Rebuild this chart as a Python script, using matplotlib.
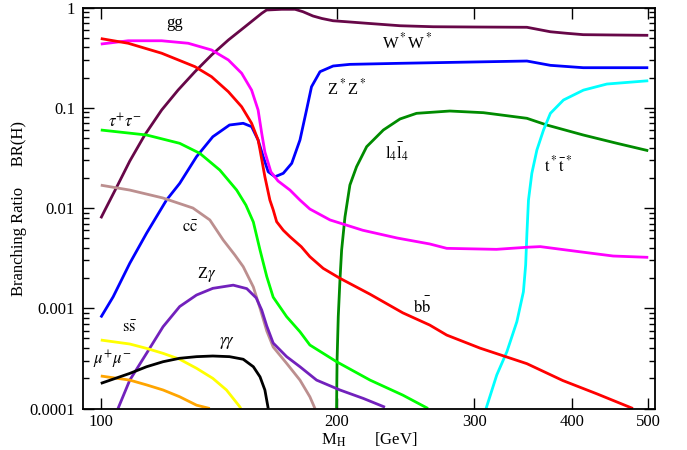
import matplotlib
matplotlib.use("Agg")
import matplotlib.pyplot as plt
from matplotlib.ticker import FixedLocator, FixedFormatter, NullLocator, LogLocator

plt.rcParams['font.family'] = ['Liberation Serif', 'DejaVu Serif']
plt.rcParams['mathtext.fontset'] = 'stix'

# ---- data (M_H in GeV, branching ratio) ----
m_bb = [100, 108.4, 119.6, 131.9, 138.5, 145.5, 151.3, 155.8, 158.8, 159.7, 162, 164.4, 166, 167.7, 171,
        174.4, 180.3, 184.9, 192.3, 202, 220.7, 243, 263, 276.5, 305, 350, 389, 430, 478]
br_bb = [0.49, 0.44, 0.35, 0.257, 0.204, 0.1446, 0.1024, 0.070, 0.0477, 0.038, 0.0205, 0.012, 0.0096,
         0.0073, 0.0060, 0.00517, 0.00411, 0.00327, 0.0025, 0.00199, 0.00138, 0.0009, 0.00068, 0.00054,
         0.0004, 0.00028, 0.00019, 0.00014, 0.0001]

m_gg = [100, 108.4, 119.6, 129.3, 138.5, 145.5, 151.3, 155.8, 158.8, 160.5, 162, 164.9, 168.4, 174.4, 179.6,
        184.9, 196.2, 216, 239, 263, 276.5, 320, 350, 364, 409, 451, 500]
br_gg = [0.432, 0.466, 0.466, 0.44, 0.377, 0.30, 0.221, 0.150, 0.095, 0.0556, 0.0362, 0.0229, 0.0186,
         0.0151, 0.0120, 0.00977, 0.0076, 0.0060, 0.00502, 0.00438, 0.00396, 0.00387, 0.00406, 0.00412,
         0.00366, 0.00332, 0.00322]

m_ww = [100, 101.2, 104.8, 108.9, 113.8, 119.6, 125.5, 131.9, 138.5, 145.5, 152.8, 160.5, 162.8, 170.2, 177,
        181.2, 186.6, 191.6, 197.9, 208, 218.7, 241, 265.7, 300, 350, 375, 393.6, 413, 451, 500]
br_ww = [0.0079, 0.0095, 0.0162, 0.0294, 0.0535, 0.095, 0.150, 0.229, 0.336, 0.474, 0.643, 0.875, 0.944,
         0.96, 0.96, 0.908, 0.823, 0.777, 0.738, 0.717, 0.696, 0.658, 0.643, 0.639, 0.635, 0.573, 0.553,
         0.536, 0.532, 0.528]

m_zz = [100, 103.7, 108.9, 114.4, 121.3, 126.1, 132.5, 139, 146, 152, 155.8, 158.8, 161.2, 163.6, 166.9,
        171, 175.3, 179.6, 183.1, 185.8, 190.5, 198, 208, 241, 350, 375, 413, 500]
br_zz = [0.00081, 0.0013, 0.00281, 0.0056, 0.0120, 0.0176, 0.0325, 0.0514, 0.0673, 0.070, 0.0648, 0.0477,
         0.0325, 0.0230, 0.0205, 0.0222, 0.0279, 0.0477, 0.095, 0.162, 0.229, 0.261, 0.271, 0.2776, 0.2926,
         0.265, 0.251, 0.251]

m_tautau = [100, 114.4, 126.1, 133.8, 141.9, 149.1, 153.2, 156.6, 159.7, 162.9, 166, 172.7, 179.6, 184.9,
            200, 220.7, 243, 261.7]
br_tautau = [0.060, 0.0535, 0.0442, 0.0351, 0.0239, 0.0151, 0.0107, 0.00725, 0.00381, 0.00207, 0.00129,
             0.000824, 0.000583, 0.00043, 0.000293, 0.000192, 0.000136, 0.0001]

m_cc = [100, 108.9, 120, 131.1, 137.8, 143.3, 148.3, 152, 156.6, 159.7, 162.9, 166, 172.7, 179.6, 184.9, 187.7]
br_cc = [0.0169, 0.0151, 0.0126, 0.0100, 0.0076, 0.0048, 0.0034, 0.0026, 0.00163, 0.001, 0.000593, 0.000411,
         0.000282, 0.000192, 0.000131, 0.0001]

m_zgam = [105.2, 108.9, 114.4, 120.1, 126.1, 132.5, 139, 147.6, 153.6, 157.9, 160.5, 162.9, 166, 172.7,
          179.6, 188.6, 202, 216.4, 230.6]
br_zgam = [0.0001, 0.000192, 0.000355, 0.000655, 0.00104, 0.001355, 0.00158, 0.0017, 0.00157, 0.00127,
           0.00096, 0.000665, 0.00045, 0.000329, 0.000261, 0.000192, 0.000153, 0.000126, 0.000103]

m_gamgam = [100, 108.9, 114.4, 120.1, 126.1, 132.5, 139, 146, 152, 156.6, 159.7, 162, 163.6]
br_gamgam = [0.000178, 0.000224, 0.000261, 0.000293, 0.000317, 0.000329, 0.000334, 0.000329, 0.00031,
             0.000261, 0.000207, 0.000153, 0.0001]

m_ss = [100, 108.9, 114.4, 120.1, 126.1, 132.5, 139, 144.7, 150.5, 150.9]
br_ss = [0.000482, 0.00044, 0.000398, 0.000355, 0.00031, 0.000252, 0.0002, 0.000153, 0.000104, 0.0001]

m_mumu = [100, 108.9, 114.4, 120.1, 126.1, 132.5, 137.8]
br_mumu = [0.000211, 0.000192, 0.000172, 0.000153, 0.000131, 0.000108, 0.0001]

m_l4 = [200, 200.3, 201, 202, 203, 205, 208, 212.1, 218.5, 229.5, 241, 253, 279, 308, 350, 371, 413, 456, 500]
br_l4 = [0.0001, 0.000305, 0.000824, 0.00191, 0.00381, 0.00813, 0.01696, 0.0258, 0.0409, 0.060, 0.0773,
         0.088, 0.0928, 0.0893, 0.0785, 0.0673, 0.0535, 0.0442, 0.0373]

m_tt = [310.4, 320.3, 330, 339.8, 346.4, 348.7, 350, 351.6, 355.1, 360.4, 367.5, 375, 389.7, 413.3, 442.8, 500]
br_tt = [0.0001, 0.000216, 0.000369, 0.000735, 0.00146, 0.0027, 0.0056, 0.012, 0.0222, 0.0379, 0.060, 0.088,
         0.1195, 0.150, 0.1725, 0.186]

x_ticks = [100, 200, 300, 400, 500]
x_ticklabels = ['100', '200', '300', '400', '500']
y_ticks = [0.0001, 0.001, 0.01, 0.1, 1]
y_ticklabels = ['0.0001', '0.001', '0.01', '0.1', '1']

# ---- figure ----
fig = plt.figure(figsize=(6.87, 4.50), dpi=100)
ax = fig.add_axes([0.1213, 0.0922, 0.8321, 0.8911])

lw = 2.0
series = [
    (m_ww, br_ww, '#670748'),
    (m_zz, br_zz, '#0000ff'),
    (m_l4, br_l4, '#008b00'),
    (m_tt, br_tt, '#00ffff'),
    (m_gg, br_gg, '#ff00ff'),
    (m_bb, br_bb, '#ff0000'),
    (m_tautau, br_tautau, '#00ff00'),
    (m_cc, br_cc, '#bc8f8f'),
    (m_zgam, br_zgam, '#7221bc'),
    (m_ss, br_ss, '#ffff00'),
    (m_mumu, br_mumu, '#ffa500'),
    (m_gamgam, br_gamgam, '#000000'),
]
for m, br, c in series:
    ax.plot(m, br, color=c, lw=lw, solid_joinstyle='round', solid_capstyle='butt')

ax.set_xscale('log')
ax.set_yscale('log')
ax.set_xlim(95, 510)
ax.set_ylim(1e-4, 1)

ax.xaxis.set_major_locator(FixedLocator(x_ticks))
ax.xaxis.set_major_formatter(FixedFormatter(x_ticklabels))
ax.xaxis.set_minor_locator(NullLocator())
ax.yaxis.set_major_locator(FixedLocator(y_ticks))
ax.yaxis.set_major_formatter(FixedFormatter(y_ticklabels))
ax.yaxis.set_minor_locator(LogLocator(base=10, subs=range(2, 10), numticks=20))
ax.yaxis.set_minor_formatter(FixedFormatter([]))

ax.tick_params(which='both', direction='in', top=True, right=True, width=1.0)
ax.tick_params(which='major', length=8, labelsize=12)
ax.tick_params(axis='y', which='major', pad=6)
ax.tick_params(axis='x', which='major', pad=4)
ax.tick_params(which='minor', length=4)
for s in ax.spines.values():
    s.set_linewidth(1.3)

ax.set_xlabel(r'M$_\mathrm{H}$       [GeV]', fontsize=12, labelpad=0.5)
ax.set_ylabel('Branching Ratio     BR(H)', fontsize=12, labelpad=2)

fs = 12
ax.text(124.3, 0.70, 'gg', fontsize=fs, ha='center', va='center')
ax.text(246, 0.453, r'W$^*$W$^*$', fontsize=fs, ha='center', va='center')
ax.text(206, 0.157, r'Z$^*$Z$^*$', fontsize=fs, ha='center', va='center')
ax.text(107.3, 0.072, r'$\tau^{+}\tau^{-}$', fontsize=fs, ha='center', va='center')
ax.text(239, 0.0362, r'$\mathrm{l}_4\bar{\mathrm{l}}_4$', fontsize=fs, ha='center', va='center')
ax.text(384, 0.0269, r'$\mathrm{t}^*\bar{\mathrm{t}}^*$', fontsize=fs, ha='center', va='center')
ax.text(129.9, 0.00632, r'$\mathrm{c}\bar{\mathrm{c}}$', fontsize=fs, ha='center', va='center')
ax.text(136.6, 0.00215, r'Z$\gamma$', fontsize=fs, ha='center', va='center')
ax.text(108.9, 0.000635, r'$\mathrm{s}\bar{\mathrm{s}}$', fontsize=fs, ha='center', va='center')
ax.text(144.9, 0.00045, r'$\gamma\gamma$', fontsize=fs, ha='center', va='center')
ax.text(103.3, 0.000305, r'$\mu^{+}\mu^{-}$', fontsize=fs, ha='center', va='center')
ax.text(257, 0.00103, r'$\mathrm{b}\bar{\mathrm{b}}$', fontsize=fs, ha='center', va='center')

fig.savefig('out.png', dpi=100)
